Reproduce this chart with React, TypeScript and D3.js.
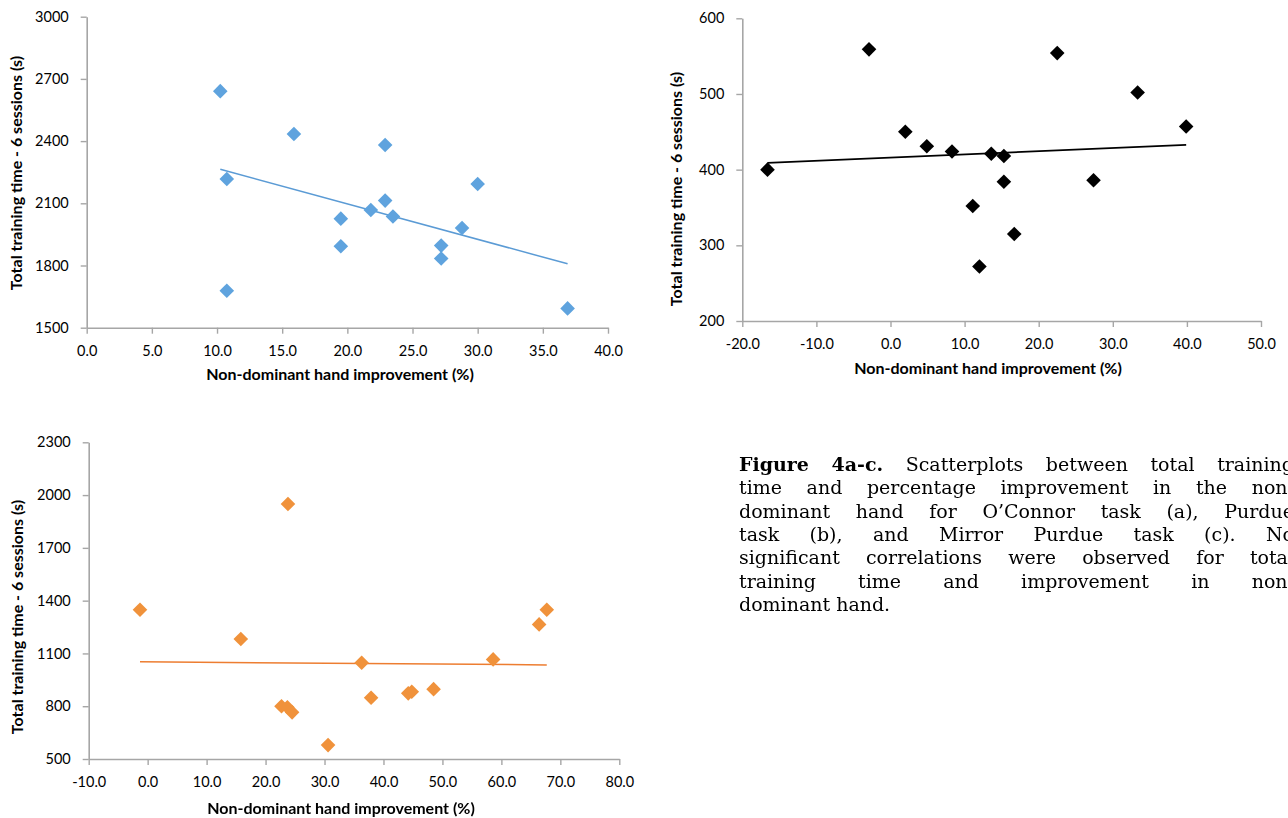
import React, { useEffect, useMemo, useRef } from 'react';
import * as d3 from 'd3';

// (a) O'Connor task
const aImprovement = [10.25, 15.9, 10.75, 10.75, 19.5, 19.5, 21.8, 22.9, 22.9, 23.5, 27.2, 27.2, 28.8, 30.0, 36.9];
const aTime = [2641, 2434, 2217, 1678, 2026, 1893, 2068, 2381, 2113, 2036, 1896, 1834, 1981, 2193, 1593];

// (b) Purdue task
const bImprovement = [-16.6, -2.9, 2.0, 4.9, 8.3, 11.1, 12.0, 13.6, 15.3, 15.3, 16.7, 22.5, 27.4, 33.35, 39.9];
const bTime = [400, 559, 450, 431, 424, 352, 272, 421, 418, 384, 315, 554, 386, 502, 457];

// (c) Mirror Purdue task
const cImprovement = [-1.3, 15.8, 23.8, 22.7, 23.7, 24.5, 30.6, 36.3, 37.9, 44.2, 44.8, 48.5, 58.6, 66.4, 67.7];
const cTime = [1348, 1182, 1949, 800, 794, 765, 579, 1047, 848, 873, 882, 897, 1066, 1265, 1348];

const xTitle = 'Non-dominant hand improvement (%)';
const yTitle = 'Total training time - 6 sessions (s)';

const captionLines = [
  [{ t: 'Figure 4a-c.', bold: true }, { t: ' Scatterplots between total training', bold: false }],
  [{ t: 'time and percentage improvement in the non-', bold: false }],
  [{ t: 'dominant hand for O\u2019Connor task (a), Purdue', bold: false }],
  [{ t: 'task (b), and Mirror Purdue task (c). No', bold: false }],
  [{ t: 'significant correlations were observed for total', bold: false }],
  [{ t: 'training time and improvement in non-', bold: false }],
  [{ t: 'dominant hand.', bold: false }],
];

const AXIS_GREY = '#a6a6a6';
const TICK_FONT = 'Lato, sans-serif';

type PanelProps = {
  xs: number[];
  ys: number[];
  xDomain: [number, number];
  yDomain: [number, number];
  xStep: number;
  yStep: number;
  left: number;
  right: number;
  top: number;
  bottom: number;
  marker: string;
  trend: string;
  trendWidth: number;
  yTitleAt: [number, number];
  xTitleAt: [number, number];
};

const diamond = (r: number) => `M0,${-r}L${r},0L0,${r}L${-r},0Z`;

const Panel = (p: PanelProps) => {
  const xRef = useRef<SVGGElement>(null);
  const yRef = useRef<SVGGElement>(null);

  const x = d3.scaleLinear().domain(p.xDomain).range([p.left, p.right]);
  const y = d3.scaleLinear().domain(p.yDomain).range([p.bottom, p.top]);

  // least squares trend line
  const mx = d3.mean(p.xs) as number;
  const my = d3.mean(p.ys) as number;
  const slope =
    d3.sum(p.xs.map((v, i) => (v - mx) * (p.ys[i] - my))) /
    d3.sum(p.xs.map(v => (v - mx) ** 2));
  const [x0, x1] = d3.extent(p.xs) as [number, number];
  const fit = (v: number) => my + slope * (v - mx);

  useEffect(() => {
    const xAxis = d3
      .axisBottom(x)
      .tickValues(d3.range(p.xDomain[0], p.xDomain[1] + p.xStep / 2, p.xStep))
      .tickFormat(d => (+d).toFixed(1))
      .tickSize(6)
      .tickSizeOuter(0)
      .tickPadding(12);
    const yAxis = d3
      .axisLeft(y)
      .tickValues(d3.range(p.yDomain[0], p.yDomain[1] + p.yStep / 2, p.yStep))
      .tickFormat(d => String(d))
      .tickSize(6)
      .tickSizeOuter(0)
      .tickPadding(12);

    [d3.select(xRef.current!).call(xAxis as any), d3.select(yRef.current!).call(yAxis as any)].forEach(g => {
      g.attr('font-family', TICK_FONT).attr('font-size', 14.5);
      g.select('.domain').attr('stroke', AXIS_GREY).attr('stroke-width', 1.6);
      g.selectAll('.tick line').attr('stroke', AXIS_GREY).attr('stroke-width', 1.4);
      g.selectAll('.tick text').attr('fill', '#000');
    });
  });

  return (
    <g>
      <g ref={xRef} transform={`translate(0,${p.bottom})`} />
      <g ref={yRef} transform={`translate(${p.left},0)`} />
      <line
        x1={x(x0)}
        y1={y(fit(x0))}
        x2={x(x1)}
        y2={y(fit(x1))}
        stroke={p.trend}
        strokeWidth={p.trendWidth}
      />
      <g filter="url(#soft)">
        {p.xs.map((v, i) => (
          <path key={i} d={diamond(7.3)} transform={`translate(${x(v)},${y(p.ys[i])})`} fill={p.marker} />
        ))}
      </g>
      <text
        transform={`translate(${p.yTitleAt[0]},${p.yTitleAt[1]}) rotate(-90)`}
        textAnchor="middle"
        dy="0.35em"
        fontFamily={TICK_FONT}
        fontWeight="bold"
        fontSize={16}
      >
        {yTitle}
      </text>
      <text
        x={p.xTitleAt[0]}
        y={p.xTitleAt[1]}
        textAnchor="middle"
        dy="0.35em"
        fontFamily={TICK_FONT}
        fontWeight="bold"
        fontSize={16}
      >
        {xTitle}
      </text>
    </g>
  );
};

const CAPTION_FONT = "'DejaVu Serif', serif";
const CAPTION_SIZE = 19;

const Caption = () => {
  const left = 739;
  const right = 1294;
  const lineGap = 23.3;
  const firstBaseline = 471;

  const lines = useMemo(() => {
    const ctx = document.createElement('canvas').getContext('2d')!;
    const measure = (s: string, bold: boolean) => {
      ctx.font = `${bold ? 'bold ' : ''}${CAPTION_SIZE}px ${CAPTION_FONT}`;
      return ctx.measureText(s).width;
    };
    return captionLines.map((segs, li) => {
      // split into words, keep bold flag
      const words: { t: string; bold: boolean }[] = [];
      segs.forEach(s => s.t.split(' ').filter(w => w.length).forEach(w => words.push({ t: w, bold: s.bold })));
      const space = measure(' ', false);
      const widths = words.map(w => measure(w.t, w.bold));
      const natural = d3.sum(widths) + space * (words.length - 1);
      const justify = li < captionLines.length - 1;
      const gap = justify ? space + (right - left - natural) / (words.length - 1) : space;
      let cx = left;
      return words.map((w, i) => {
        const item = { ...w, x: cx };
        cx += widths[i] + gap;
        return item;
      });
    });
  }, []);

  return (
    <g fontFamily={CAPTION_FONT} fontSize={CAPTION_SIZE} fill="#000">
      {lines.map((words, li) => (
        <text key={li} y={firstBaseline + li * lineGap}>
          {words.map((w, i) => (
            <tspan key={i} x={w.x} fontWeight={w.bold ? 'bold' : 'normal'}>
              {w.t}
            </tspan>
          ))}
        </text>
      ))}
    </g>
  );
};

const App = () => {
  return (
    <div>
      <svg
        width={1288}
        height={818}
        style={{ position: 'absolute', left: 0, top: 0, background: '#fff' }}
      >
        <defs>
          <filter id="soft" x="-20%" y="-20%" width="140%" height="140%">
            <feGaussianBlur stdDeviation={0.6} />
          </filter>
        </defs>
        <Panel
          xs={aImprovement}
          ys={aTime}
          xDomain={[0, 40]}
          yDomain={[1500, 3000]}
          xStep={5}
          yStep={300}
          left={86.7}
          right={608}
          top={16.7}
          bottom={327.7}
          marker="#5ea3de"
          trend="#5b9bd5"
          trendWidth={1.5}
          yTitleAt={[16, 173]}
          xTitleAt={[340, 374]}
        />
        <Panel
          xs={bImprovement}
          ys={bTime}
          xDomain={[-20, 50]}
          yDomain={[200, 600]}
          xStep={10}
          yStep={100}
          left={742.3}
          right={1261}
          top={18.3}
          bottom={321}
          marker="#000"
          trend="#000"
          trendWidth={1.8}
          yTitleAt={[676, 189]}
          xTitleAt={[988, 368]}
        />
        <Panel
          xs={cImprovement}
          ys={cTime}
          xDomain={[-10, 80]}
          yDomain={[500, 2300]}
          xStep={10}
          yStep={300}
          left={88.7}
          right={619.3}
          top={442.3}
          bottom={759}
          marker="#f0923b"
          trend="#ed7d31"
          trendWidth={1.5}
          yTitleAt={[17, 617]}
          xTitleAt={[341, 808]}
        />
        <Caption />
      </svg>
    </div>
  );
};

export default App;
